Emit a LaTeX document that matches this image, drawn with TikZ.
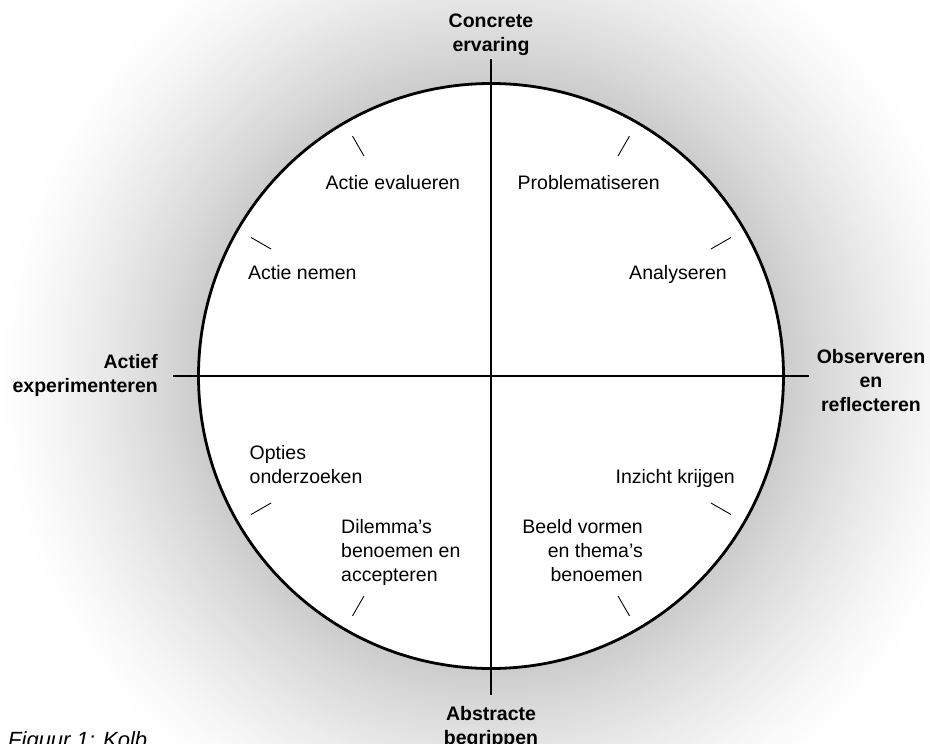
\documentclass[tikz,border=0pt]{standalone}
\usepackage{fontspec}
\setmainfont{Liberation Sans}
\begin{document}
\begin{tikzpicture}[x=1pt,y=-1pt,
  axis/.style={line width=2.7pt},
  ring/.style={line width=2.8pt},
  tick/.style={line width=0.9pt},
  lbl/.style={inner sep=0pt, font=\fontsize{19.5}{24}\selectfont},
  pole/.style={inner sep=0pt, font=\fontsize{19.5}{24}\selectfont\bfseries, align=center},
  ]
\useasboundingbox (0,0) rectangle (930,744);
\clip (0,0) rectangle (930,744);
\coordinate (c) at (491,376);
% soft glow around the circle
\foreach \r in {495,492,...,293} {
  \pgfmathsetmacro\p{20*(1-(\r-293)/202)^1.3}
  \fill[black!\p] (c) circle[radius=\r pt];
}
\fill[white] (c) circle[radius=292.5pt];
\draw[ring] (c) circle[radius=292.5pt];
\coordinate (top) at (491,59);
\coordinate (bot) at (491,695);
\coordinate (lft) at (173,376);
\coordinate (rgt) at (809,376);
\draw[axis] (top) -- (bot);
\draw[axis] (lft) -- (rgt);
\foreach \a in {30,60,120,150,210,240,300,330}
  \draw[tick] ([shift={(\a:254pt)}]c) -- ([shift={(\a:277pt)}]c);
% poles (base = baseline of last line)
\node[pole, anchor=base] (ce) at (491,51) {Concrete\\ervaring};
\node[pole, anchor=base east, align=right] (ae) at (158,392) {Actief\\experimenteren};
\node[pole, anchor=base] (or) at (871,411) {Observeren\\en\\reflecteren};
\node[pole, anchor=base] (ab) at (491,744) {Abstracte\\begrippen};
% inner labels
\node[lbl, anchor=base west] (aev) at (325.5,189) {Actie evalueren};
\node[lbl, anchor=base west] (pro) at (517.5,189) {Problematiseren};
\node[lbl, anchor=base west] (ane) at (248,279) {Actie nemen};
\node[lbl, anchor=base east] (ana) at (727,279) {Analyseren};
\node[lbl, anchor=base west, align=left] (opt) at (249.5,483) {Opties\\onderzoeken};
\node[lbl, anchor=base east] (inz) at (735,483) {Inzicht krijgen};
\node[lbl, anchor=base west, align=left] (dil) at (341,581) {Dilemma’s\\benoemen en\\accepteren};
\node[lbl, anchor=base east, align=right] (bee) at (643,581) {Beeld vormen\\en thema’s\\benoemen};
\node[inner sep=0pt, anchor=base west, font=\itshape\fontsize{22}{26}\selectfont] (fig) at (8,747) {Figuur 1: Kolb};
\end{tikzpicture}
\end{document}
